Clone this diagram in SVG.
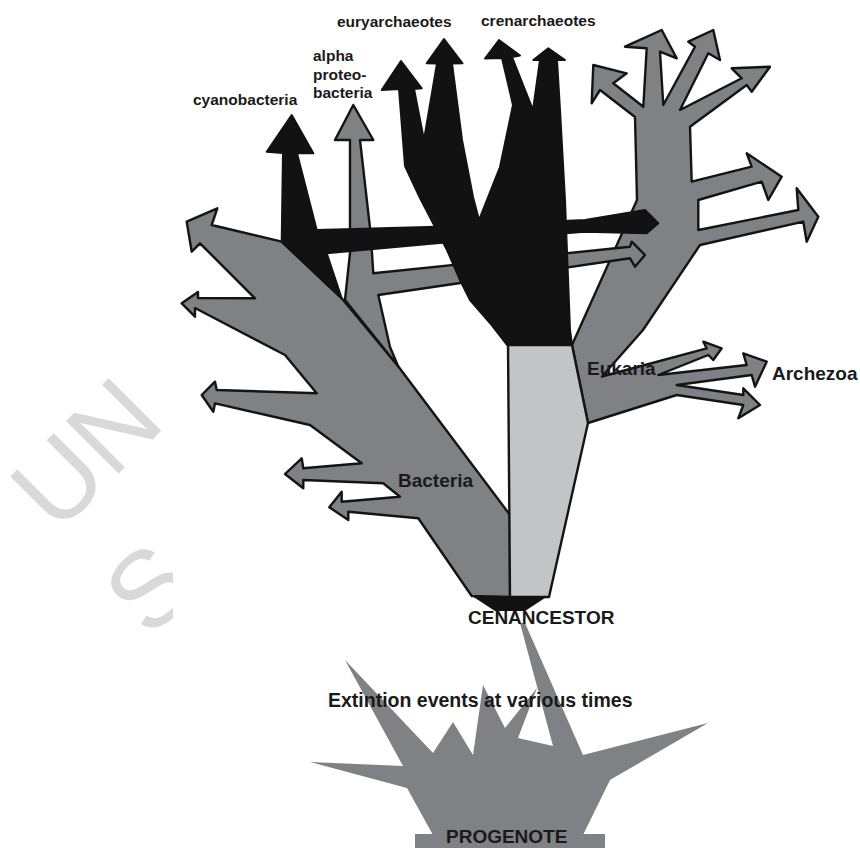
<svg xmlns="http://www.w3.org/2000/svg" width="860" height="848" viewBox="0 0 860 848">
<style>
.dom{fill:#7f8184;stroke:#141414;stroke-width:2.4;stroke-linejoin:round}
.blk{fill:#121212;stroke:#121212;stroke-width:2;stroke-linejoin:round}
.lite{fill:#c3c4c6;stroke:#141414;stroke-width:2.4;stroke-linejoin:round}
.splash{fill:#7f8184}
.lab{font-family:"Liberation Sans",Arial,sans-serif;font-weight:bold;fill:#1a1a1a}
.sm{font-size:15.5px}
.big{font-size:19px}
.wm{font-family:"Liberation Sans",Arial,sans-serif;font-size:108px;fill:#d9d9d9}
</style>
<defs>
<clipPath id="wmclip"><rect x="0" y="0" width="173" height="848"/></clipPath>
</defs>
<rect width="860" height="848" fill="#ffffff"/>
<g id="watermark" clip-path="url(#wmclip)">
<text class="wm" transform="translate(57,535) rotate(-45)">UN</text>
<text class="wm" transform="translate(150,640) rotate(-45)">S</text>
</g>
<g id="connectors">
<g id="eukarya-branch">
<polygon class="dom" points="635,117 600,90 591.7,103.3 593.3,65 626.7,73.3 613.3,83.3 643.3,106.7 646.7,48.3 625,46.7 661.7,30 676.7,58.3 660,51.7 663.3,105 695,46.7 688.3,41.7 713.3,30 720,60 708.3,53.3 680,110 741.7,78.3 731.7,68.3 770,66.7 751.7,91.7 746.7,85 690,126.7 691.7,181.7 751.7,166.7 746.7,153.3 781.7,176.7 768.3,200 761.7,181.7 698.3,200 698.3,230 798.3,210 796.7,188.3 818.3,216.7 806.7,241.7 803.3,221.7 700,245 643,330 602,376.5 706.7,348.3 703.3,341.7 721.7,348.3 713.3,360 708.3,355 658.3,375 746.7,365 743.3,353.3 766.7,361.7 755,386.7 751.7,375 676.7,385 743.3,395 743.3,388.3 760,405 738.3,418.3 743.3,405 676.7,395 588,423 572,345 637,200"/>
</g>
<g id="bacteria-branch">
<polygon class="dom" points="186.7,221.7 217.3,208.3 211.7,225 281.7,241.7 341.7,298.3 398,366 510,515 510,597 471.7,596 418.3,518.3 348.3,511.7 348.3,520 329.3,507.3 341.7,491.7 341.7,501.7 400,496.7 383.3,483.3 303.3,480 303.3,488.3 285,474 301.7,458.3 303.3,468.3 361.7,463.3 310,425 215,403.3 213.3,411.7 201.7,395 215,381.7 216.7,390 316.7,393.3 285,355 195,308 195,316.7 181.7,303.3 198,292 198,298 255,298.3 200,243.3 191.7,251.7"/>
</g>
<g id="alpha-branch">
<polygon class="dom" points="353.3,105 373.3,140 360,140 370,228 372,253 373.3,273.3 630,246.7 631.7,241.7 645,255 635,266.7 630,258.3 378.3,295 390,347 398,366 345,300 350,253 350,140 335,140"/>
</g>
<g id="archaea-column">
<polygon class="lite" points="508,345 572,345 588,423 549,597 510,597"/>
</g>
<g id="archaea-branch">
<polygon class="blk" points="401,61 421.7,88.3 414,89 424,140 437,63.5 426.7,63.3 444,39 462.5,63.3 452,63.5 462,140 473,197 479,220 500,167 513,105 502,58 485,58.5 499,40 520,55.5 512,57 533,110 540,60 533.3,60 548.3,48.3 565,60 557,60 560,110 565,200 570,330 572,345 507,345 490,323 470,300 460,280 447,250 420,198 405,166 399,89 381.7,90"/>
</g>
<g id="cyano-branch">
<polygon class="blk" points="291.7,115 313.3,153.3 297,153.3 316.7,230 436.7,226.7 585,220 645,210 658.3,223.3 646.7,233.3 585,231.7 436.7,243.3 326.7,253.3 341.7,298.3 281.7,241.7 283,153 266.7,151.7"/>
</g>
<g id="cenancestor-base">
<polygon fill="#121212" points="472,596 548,596 525,611 495,611"/>
</g>
</g>
<g id="progenote">
<polygon class="splash" points="433,835 407,788 310,762 403,766 345,660 433,753 453,722 473,755 483,685 505,728 537,688 518,738 553,746 520,623 525,623 583,755 708,723 610,780 583,835"/>
<rect class="splash" x="415" y="834" width="190" height="14"/>
</g>
<g id="labels">
<text class="lab sm" x="193" y="105">cyanobacteria</text>
<text class="lab sm" x="313" y="61">alpha</text>
<text class="lab sm" x="313" y="80">proteo-</text>
<text class="lab sm" x="313" y="98">bacteria</text>
<text class="lab sm" x="337" y="27">euryarchaeotes</text>
<text class="lab sm" x="481" y="26">crenarchaeotes</text>
<text class="lab big" x="587" y="375">Eukaria</text>
<text class="lab big" x="772" y="380">Archezoa</text>
<text class="lab big" x="398" y="487">Bacteria</text>
<text class="lab big" x="468" y="624">CENANCESTOR</text>
<text class="lab" style="font-size:19.5px" x="328" y="707">Extintion events at various times</text>
<text class="lab" style="font-size:19px" x="446" y="843">PROGENOTE</text>
</g>
</svg>
